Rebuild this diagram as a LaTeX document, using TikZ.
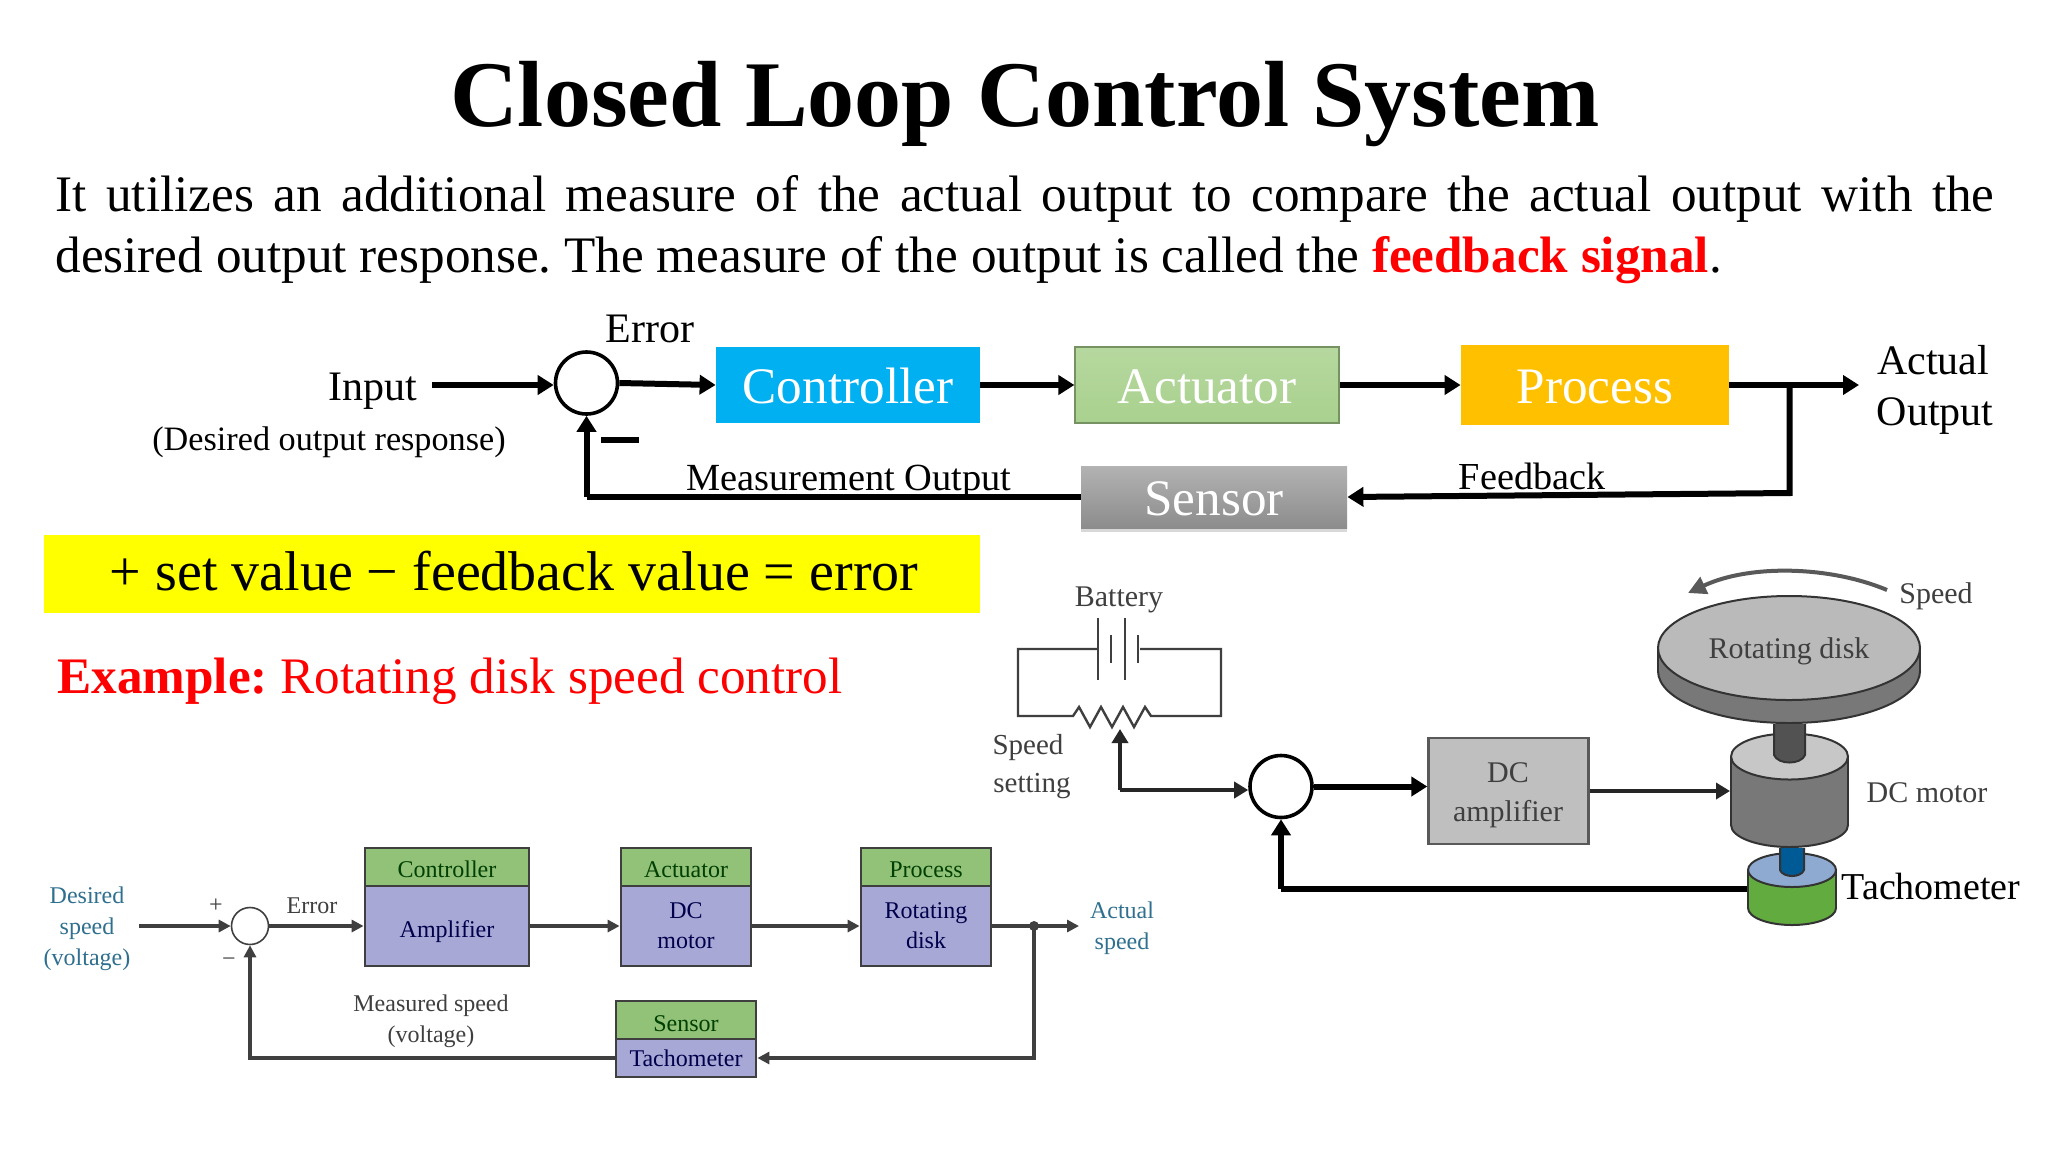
\documentclass[tikz,border=0pt]{standalone}
\usepackage{fontspec}
\setmainfont{Liberation Serif}
\usetikzlibrary{arrows.meta,shadows}
\newcommand{\fsz}[1]{\fontsize{#1}{#1}\selectfont}
\frenchspacing
\definecolor{ctlblue}{HTML}{00B0F0}
\definecolor{procgold}{HTML}{FFC000}
\definecolor{actgreen}{HTML}{A9D18E}
\definecolor{inkgrey}{HTML}{3F3F3F}
\definecolor{teal}{HTML}{2F6F8F}
\definecolor{lblgreen}{HTML}{92C178}
\definecolor{lblpurple}{HTML}{A8A8D6}
\definecolor{tgreen}{HTML}{62AC3F}
\definecolor{tblue}{HTML}{8FAAD0}
\definecolor{tshaft}{HTML}{005A96}
\definecolor{eqyellow}{HTML}{FFFF00}
\definecolor{pureRed}{HTML}{FF0000}
\tikzset{
  bigline/.style={line width=3pt,-{Triangle[length=8pt,width=9.5pt]}},
  plainline/.style={line width=3pt},
  sumc/.style={circle,draw=black,fill=white,line width=1.8pt,minimum size=31pt,inner sep=0pt},
  flowbox/.style={rectangle,inner sep=0pt,text=white,font=\fsz{25.6},text height=18pt,text depth=0pt},
  t/.style={anchor=base,inner sep=0pt,align=center},
  tg/.style={t,text=inkgrey},
  tt/.style={t,text=teal,font=\fsz{12}},
  sm/.style={t,text=inkgrey,font=\fsz{12}},
  lab/.style={rectangle,inner sep=0pt,draw=inkgrey,line width=1.4pt,fill=lblgreen,minimum height=19pt,font=\fsz{12},text=black!75!green,text height=10pt,text depth=0pt},
  blk/.style={rectangle,inner sep=0pt,draw=inkgrey,line width=1.4pt,fill=lblpurple,font=\fsz{12},text=black!70!blue,align=center},
  sline/.style={line width=1.7pt,-{Triangle[length=6pt,width=6pt]},color=inkgrey},
  wire/.style={line width=1.2pt,color=inkgrey},
  midline/.style={line width=1.8pt,color=black!85,-{Triangle[length=7pt,width=8pt]}},
  cyl/.style={draw=black!80,line width=1pt},
}
\begin{document}
\begin{tikzpicture}[x=0.5pt,y=-0.5pt]
\useasboundingbox[fill=white] (0,0) rectangle (2048,1152);

% title and paragraph
\node[t,font=\fsz{47}\bfseries] (title) at (1025,126) {Closed Loop Control System};
\node[anchor=base west,inner sep=0pt,text width=969.5pt,align=justify,font=\fontsize{25.6}{30.5}\selectfont] (para) at (55,211) {It utilizes an additional measure of the actual output to compare the actual output with the\linebreak desired output response. The measure of the output is called the \textcolor{pureRed}{\textbf{feedback signal}}.};

% upper block diagram
\node[sumc] (sum) at (586.5,383) {};
\node[flowbox,fill=ctlblue,minimum width=132pt,minimum height=38pt] (ctl) at (848,385) {Controller};
\node[flowbox,top color=actgreen!85!white,bottom color=actgreen,draw=actgreen!70!black,line width=0.6pt,minimum width=132pt,minimum height=38pt] (act) at (1207,385) {Actuator};
\node[flowbox,fill=procgold,minimum width=134pt,minimum height=40pt] (proc) at (1595,385) {Process};
\node[flowbox,top color=black!30,bottom color=black!45,drop shadow={shadow xshift=0pt,shadow yshift=-2pt,opacity=0.3},minimum width=133pt,minimum height=31pt] (sens) at (1214,497) {Sensor};

\node[t,font=\fsz{21}] (inl) at (373,400) {Input};
\node[t,font=\fsz{17.1}] (desl) at (329,450) {(Desired output response)};
\node[t,font=\fsz{21}] (errl) at (650,342) {Error};
\node[t,font=\fsz{19.2}] (meas) at (849,490) {Measurement Output};
\node[t,font=\fsz{19.1}] (fbl) at (1532,489) {Feedback};
\node[t,font=\fsz{21}] (actl) at (1933,374) {Actual};
\node[t,font=\fsz{21}] (outl) at (1935,425) {Output};
\coordinate (instart) at (432,385);
\coordinate (outend) at (1859,385);
\coordinate (bra) at (1789.5,385);
\coordinate (brb) at (1789.5,493);
\coordinate (fbc) at (586.5,497);
\coordinate (mna) at (601,440);
\coordinate (mnb) at (639,440);

\draw[bigline] (instart) -- (instart -| sum.west);
\draw[bigline] (sum.east) -- (ctl.west);
\draw[bigline] (ctl.east) -- (act.west);
\draw[bigline] (act.east) -- (proc.west);
\draw[bigline] (proc.east) -- (outend);
\draw[bigline] (bra) -- (brb) -- (sens.east);
\draw[plainline] (sens.west) -- (fbc);
\draw[bigline] (fbc) -- (sum.south);
\draw[plainline] (mna) -- (mnb);

% yellow equation
\node[rectangle,fill=eqyellow,inner sep=0pt,minimum width=468pt,minimum height=39pt] (eqbox) at (512,574) {};
\node[t,font=\fsz{28}] (eq) at (514,590) {+ set value − feedback value = error};
\node[t,font=\fsz{25.6},text=pureRed] (ex) at (450,693) {\textbf{Example:} Rotating disk speed control};

% lower left block diagram
\node[lab,minimum width=82pt] (cl) at (447,867) {Controller};
\node[blk,minimum width=82pt,minimum height=40pt,text height=11pt,text depth=0pt] (amp) at (447,926) {Amplifier};
\node[lab,minimum width=65pt] (al) at (686,867) {Actuator};
\node[blk,minimum width=65pt,minimum height=40pt] (mot) at (686,926) {DC\\[3pt]motor};
\node[lab,minimum width=65pt] (pl) at (926,867) {Process};
\node[blk,minimum width=65pt,minimum height=40pt] (rd) at (926,926) {Rotating\\[3pt]disk};
\node[lab,minimum width=70pt,text height=11pt] (sl) at (686,1020) {Sensor};
\node[blk,minimum width=70pt,minimum height=19pt] (tc) at (686,1058) {Tachometer};
\node[circle,draw=inkgrey,fill=white,line width=0.8pt,minimum size=18.5pt,inner sep=0pt] (lsum) at (250,926) {};
\node[tt] (d1) at (87,903) {Desired};
\node[tt] (d2) at (87,934) {speed};
\node[tt] (d3) at (87,965) {(voltage)};
\node[tt] (a1) at (1122,918) {Actual};
\node[tt] (a2) at (1122,949) {speed};
\node[sm] (el) at (312,913) {Error};
\node[sm] (plusl) at (216,912) {+};
\node[sm] (minl) at (229,966) {−};
\node[sm] (m1) at (431,1011) {Measured speed};
\node[sm] (m2) at (431,1042) {(voltage)};
\coordinate (lin) at (139,926);
\coordinate (lout) at (1079,926);
\coordinate (lbr) at (1034,926);
\coordinate (lbc) at (1034,1058);
\coordinate (lfc) at (250,1058);
\draw[sline] (lin) -- (lsum.west);
\draw[sline] (lsum.east) -- (amp.west);
\draw[sline] (amp.east) -- (mot.west);
\draw[sline] (mot.east) -- (rd.west);
\draw[sline] (rd.east) -- (lout);
\fill[inkgrey] (lbr) circle (5);
\draw[sline] (lbr) -- (lbc) -- (tc.east);
\draw[sline] (tc.west) -- (lfc) -- (lsum.south);

% battery circuit
\node[tg,font=\fsz{15}] (bat) at (1119,606) {Battery};
\node[tg,font=\fsz{14.5}] (s1) at (1028,754) {Speed};
\node[tg,font=\fsz{14.5}] (s2) at (1032,792) {setting};
\draw[wire] (1098,649) -- (1018,649) -- (1018,716) -- (1073,716) -- (1079,707) -- (1090,727) -- (1101,707) -- (1112,727) -- (1123,707) -- (1134,727) -- (1145,707) -- (1151,716) -- (1221,716) -- (1221,649) -- (1140,649);
\draw[wire] (1098,618) -- (1098,680);
\draw[wire] (1111,635) -- (1111,663);
\draw[wire] (1125,618) -- (1125,680);
\draw[wire] (1138,635) -- (1138,663);

% right block diagram
\node[sumc] (rsum) at (1281,786.5) {};
\node[rectangle,draw=black!65,line width=1.2pt,fill=black!25,inner sep=0pt,minimum width=80pt,minimum height=53pt] (dca) at (1508.5,791) {};
\node[tg,font=\fsz{15}] (dc1) at (1508,782) {DC};
\node[tg,font=\fsz{15}] (dc2) at (1508,821) {amplifier};
\coordinate (wiper) at (1120,729);
\coordinate (wipc) at (1120,790);
\coordinate (motin) at (1730,791);
\coordinate (tachout) at (1749,889);
\coordinate (tachc) at (1281,889);
\draw[midline] (wipc) -- (wiper);
\draw[midline] (wipc) -- (wipc -| rsum.west);
\draw[bigline] (rsum.east) -- (dca.west |- rsum.east);
\draw[midline] (dca.east) -- (motin);
\draw[plainline] (tachout) -- (tachc);
\draw[bigline] (tachc) -- (rsum.south);

% disk
\draw[cyl,fill=black!53] (1789,671) ellipse [x radius=131,y radius=52];
\fill[black!53] (1658,648) rectangle (1920,671);
\draw[cyl] (1658,648) -- (1658,671) (1920,648) -- (1920,671);
\draw[cyl,fill=black!27] (1789,648) ellipse [x radius=131,y radius=52];
% motor
\draw[cyl,fill=black!53] (1789.5,825) ellipse [x radius=58.5,y radius=22];
\fill[black!53] (1731,756) rectangle (1848,825);
\draw[cyl] (1731,756) -- (1731,825) (1848,756) -- (1848,825);
\draw[cyl,fill=black!22] (1789.5,756.5) ellipse [x radius=58.5,y radius=23];
\draw[cyl,fill=black!68] (1774,724) -- (1774,755) .. controls (1778,765) and (1801,765) .. (1805,755) -- (1805,724);
% tachometer
\draw[cyl,fill=tgreen] (1792,908) ellipse [x radius=44,y radius=17];
\fill[tgreen] (1748,870) rectangle (1836,908);
\draw[cyl] (1748,870) -- (1748,908) (1836,870) -- (1836,908);
\draw[cyl,fill=tblue] (1792,870) ellipse [x radius=44,y radius=17];
\draw[cyl,fill=tshaft] (1780,848) -- (1780,870) .. controls (1783,878) and (1801,878) .. (1804,870) -- (1804,848);
% speed arrow
\coordinate (spa) at (1887,590);
\coordinate (spb) at (1688,593);
\draw[line width=2pt,color=black!65,-{Triangle[length=9pt,width=9pt]}] (spa) .. controls (1830,566) and (1750,564) .. (spb);
\node[tg,font=\fsz{15}] (spd) at (1936,603) {Speed};
\node[tg,font=\fsz{15}] (rdl) at (1789,658) {Rotating disk};
\node[tg,font=\fsz{15}] (dcm) at (1927,802) {DC motor};
\node[t,font=\fsz{19}] (tch) at (1931,899) {Tachometer};
\end{tikzpicture}
\end{document}
